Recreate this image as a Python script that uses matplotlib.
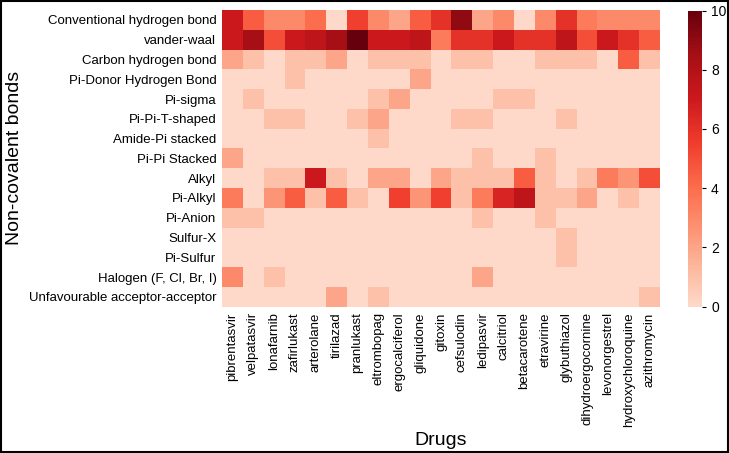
import numpy as np
import matplotlib
matplotlib.use("Agg")
import matplotlib.pyplot as plt
from matplotlib.colors import LinearSegmentedColormap
from matplotlib.patches import Rectangle

bonds = ["Conventional hydrogen bond", "vander-waal", "Carbon hydrogen bond",
         "Pi-Donor Hydrogen Bond", "Pi-sigma", "Pi-Pi-T-shaped", "Amide-Pi stacked",
         "Pi-Pi Stacked", "Alkyl", "Pi-Alkyl", "Pi-Anion", "Sulfur-X", "Pi-Sulfur",
         "Halogen (F, Cl, Br, I)", "Unfavourable acceptor-acceptor"]
drugs = ["pibrentasvir", "velpatasvir", "lonafarnib", "zafirlukast", "arterolane",
         "tirilazad", "pranlukast", "eltrombopag", "ergocalciferol", "gliquidone",
         "gitoxin", "cefsulodin", "ledipasvir", "calcitriol", "betacarotene",
         "etravirine", "glybuthiazol", "dihydroergocornine", "levonorgestrel",
         "hydroxychloroquine", "azithromycin"]

conventional_hb = [7, 4.5, 3, 3, 4, 0, 5.5, 3, 2, 4.5, 6, 9, 2, 3, 0, 3, 6, 3.5, 3, 3, 3]
vander_waal     = [7, 8.5, 5, 7, 7.5, 8.5, 10, 7, 7, 7.5, 3.5, 6, 6, 7, 6, 6, 7.5, 5, 7, 6, 4.5]
carbon_hb       = [2, 1, 0, 1, 1, 2, 0, 1, 1, 1, 0, 1, 1, 0, 0, 1, 1, 1, 0, 4.5, 1]
pi_donor_hb     = [0, 0, 0, 1, 0, 0, 0, 0, 0, 2, 0, 0, 0, 0, 0, 0, 0, 0, 0, 0, 0]
pi_sigma        = [0, 1, 0, 0, 0, 0, 0, 1, 2, 0, 0, 0, 0, 1, 1, 0, 0, 0, 0, 0, 0]
pi_pi_t         = [0, 0, 1, 1, 0, 0, 1, 2, 0, 0, 0, 1, 1, 0, 0, 0, 1, 0, 0, 0, 0]
amide_pi        = [0, 0, 0, 0, 0, 0, 0, 1, 0, 0, 0, 0, 0, 0, 0, 0, 0, 0, 0, 0, 0]
pi_pi_stacked   = [2, 0, 0, 0, 0, 0, 0, 0, 0, 0, 0, 0, 1, 0, 0, 1, 0, 0, 0, 0, 0]
alkyl           = [0, 0, 1, 1, 7, 1, 0, 2, 2, 0, 2, 1, 1, 1, 4.5, 1, 0, 1, 3.5, 2.5, 5]
pi_alkyl        = [3.5, 0, 2.5, 4.5, 1, 4.5, 1, 0, 5.5, 2.5, 5.5, 1, 3.5, 6.5, 7.5, 1, 1, 2, 0, 1, 0]
pi_anion        = [1, 1, 0, 0, 0, 0, 0, 0, 0, 0, 0, 0, 1, 0, 0, 1, 0, 0, 0, 0, 0]
sulfur_x        = [0, 0, 0, 0, 0, 0, 0, 0, 0, 0, 0, 0, 0, 0, 0, 0, 1, 0, 0, 0, 0]
pi_sulfur       = [0, 0, 0, 0, 0, 0, 0, 0, 0, 0, 0, 0, 0, 0, 0, 0, 1, 0, 0, 0, 0]
halogen         = [3, 0, 1, 0, 0, 0, 0, 0, 0, 0, 0, 0, 2, 0, 0, 0, 0, 0, 0, 0, 0]
unfav_aa        = [0, 0, 0, 0, 0, 2, 0, 1, 0, 0, 0, 0, 0, 0, 0, 0, 0, 0, 0, 0, 1]

data = np.array([conventional_hb, vander_waal, carbon_hb, pi_donor_hb, pi_sigma,
                 pi_pi_t, amide_pi, pi_pi_stacked, alkyl, pi_alkyl, pi_anion,
                 sulfur_x, pi_sulfur, halogen, unfav_aa], dtype=float)

plt.rcParams['font.family'] = ['Liberation Sans', 'DejaVu Sans']

base = plt.get_cmap('Reds')
cmap = LinearSegmentedColormap.from_list('reds_trunc', base(np.linspace(0.15, 1.0, 256)))

W, H = 729, 453
fig = plt.figure(figsize=(W / 100, H / 100), dpi=100)
ax = fig.add_axes([222 / W, 1 - 306.7 / H, (660 - 222) / W, (306.7 - 10) / H])
cax = fig.add_axes([687.5 / W, 1 - 306.7 / H, 14.5 / W, (306.7 - 10.5) / H])

mesh = ax.pcolormesh(data, cmap=cmap, vmin=0, vmax=10)
ax.set_xlim(0, len(drugs))
ax.set_ylim(len(bonds), 0)
ax.set_xticks(np.arange(len(drugs)) + 0.5)
ax.set_xticklabels(drugs, rotation=90, fontsize=9.5)
ax.set_yticks(np.arange(len(bonds)) + 0.5)
ax.set_yticklabels(bonds, fontsize=9.5)
ax.tick_params(length=0, pad=4)
for s in ax.spines.values():
    s.set_visible(False)
ax.set_xlabel("Drugs", fontsize=14)
ax.set_ylabel("Non-covalent bonds", fontsize=14)

cb = fig.colorbar(mesh, cax=cax)
cb.set_ticks([0, 2, 4, 6, 8, 10])
cb.ax.tick_params(labelsize=10, length=3, width=0.8)
cb.outline.set_visible(False)

fig.patches.append(Rectangle((0.002, 0.003), 0.996, 0.994, transform=fig.transFigure,
                             fill=False, edgecolor='black', linewidth=1.5))

fig.savefig("out.png", dpi=100)
